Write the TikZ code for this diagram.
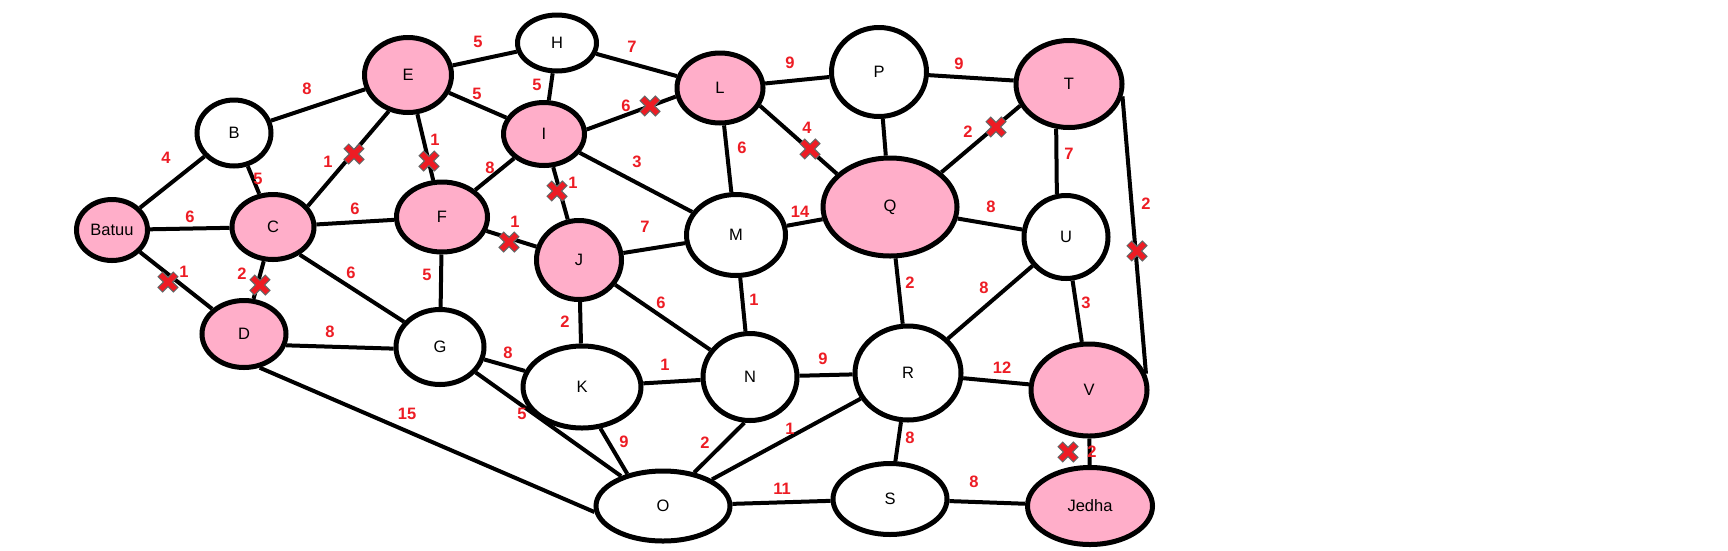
\documentclass[tikz,border=0pt]{standalone}
\usepackage{fontspec}
\setmainfont{Liberation Sans}
\usepackage{tikz}
\usetikzlibrary{shapes.geometric}

\definecolor{pinkfill}{HTML}{FFAEC9}
\definecolor{wtred}{HTML}{ED1C24}

\begin{document}
\begin{tikzpicture}[
      x=1pt, y=-1pt,
      city/.style={ellipse, draw, line width=5pt, inner sep=0pt, fill=white,
                   font=\fontsize{16.5}{17}\selectfont},
      seen/.style={city, fill=pinkfill},
      road/.style={line width=4pt},
      wt/.style={text=wtred, font=\fontsize{16.5}{17}\selectfont\bfseries, inner sep=0pt},
      cut/.pic={
        \draw[line width=7.5pt, black!60] (-8,-8) -- (8,8) (-8,8) -- (8,-8);
        \draw[line width=5pt, wtred] (-7.3,-7.3) -- (7.3,7.3) (-7.3,7.3) -- (7.3,-7.3);
      },
    ]
    \fill[white] (0,0) rectangle (1728,550);
    \useasboundingbox (0,0) rectangle (1728,550);
    % ── cities ──
    \foreach \n/\x/\y/\w/\h/\s in {
        Batuu/112/230/71/61/seen, B/234/133/74/66/city, C/273/227/82/65/seen,
        D/244/334/84/67/seen, E/408/75/87/75/seen, F/442/217/91/70/seen,
        G/440/347/88/75/city, H/557/43/79/56/city, I/544/134/81/63/seen,
        J/579/260/85/79/seen, K/582/387/118/82/city, L/720/88/86/70/seen,
        M/736/235/99/81/city, N/750/377/94/87/city, O/663/506/134/70/city,
        P/879/72/95/89/city, Q/890/207/134/98/seen, R/908/373/106/94/city,
        S/890/499/114/71/city, T/1069/84/106/87/seen, U/1066/237/84/83/city,
        V/1089/390/116/92/seen, Jedha/1090/506/125/77/seen}
      \node[\s, minimum width=\w pt, minimum height=\h pt] (\n) at (\x,\y) {\n};
    % ── roads with weights ──
    \foreach \a/\b/\w/\lx/\ly in {
        Batuu/B/4/166/158, Batuu/C/6/190/217, Batuu/D/1/184/272,
        B/E/8/307/89, B/C/5/258/179, C.31/E.242/1/328/162,
        C/F/6/355/209, C/D/2/242/274, C.-46/G.145/6/351/273,
        E/H/5/478/42, E/I/5/477/94, E/F/1/435/140,
        H/I/5/537/85, H/L/7/632/47, I/F/8/490/168,
        I.6/L.191/6/626/106, I/J/1/573/183, I/M/3/637/162,
        F/J/1/515/222, F/G/5/427/275, L/P/9/790/63,
        L/M/6/742/148, L.-24/Q.148/4/807/128, P/T/9/959/64,
        T.204/Q.34/2/968/132, T.254/U.102/7/1069/154, T.-13/V.16/2/1146/204,
        J/M/7/645/227, M/Q/14/800/212, M/N/1/754/300,
        Q/U/8/991/207, Q/R/2/910/283, U/R/8/984/288,
        U/V/3/1086/303, J/N/6/661/303, J/K/2/565/322,
        D.-15/G.182/8/330/332, D.-65/O.185/15/407/414, G/K/8/508/353,
        G/O/5/522/414, K/N/1/665/365, K.-66/O.138/9/624/442,
        N/R/9/823/359, N.263/O.47/2/705/443, R/O/1/790/429,
        R/V/12/1002/368, R/S/8/910/438, O/S/11/782/489,
        S/Jedha/8/974/482, V/Jedha/2/1092/452} {
      \draw[road] (\a) -- (\b);
      \node[wt] at (\lx,\ly) {\w};
    }
    \draw[road] (P) -- (Q);
    % ── closed roads ──
    \foreach \cx/\cy in {168/282, 354/154, 260/285, 429/161, 650/106, 557/191,
        509/242, 810/149, 996/127, 1137/251, 1068/452}
      \pic at (\cx,\cy) {cut};
\end{tikzpicture}
\end{document}
